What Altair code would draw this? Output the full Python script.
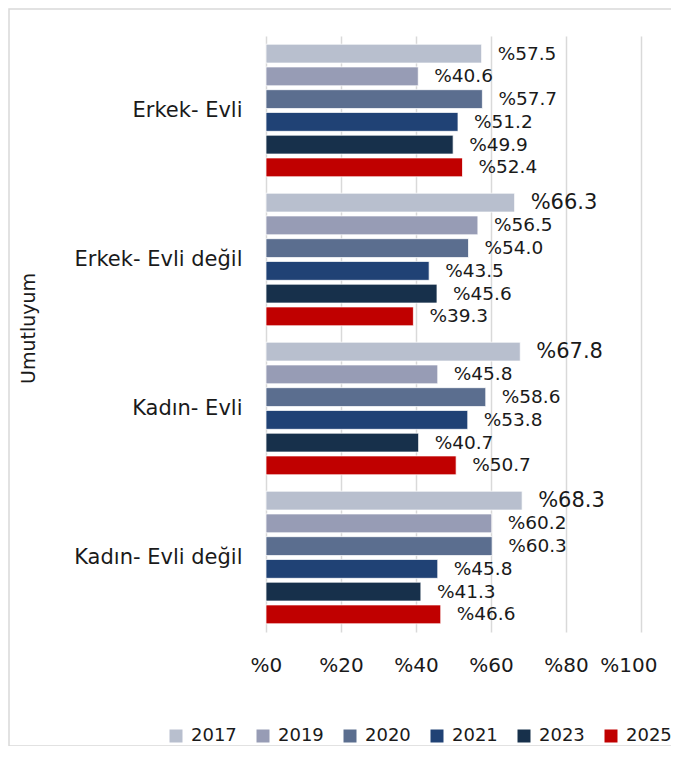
import altair as alt
import pandas as pd

categories = ["Erkek- Evli", "Erkek- Evli değil", "Kadın- Evli", "Kadın- Evli değil"]
years = ["2017", "2019", "2020", "2021", "2023", "2025"]
v2017 = [57.5, 66.3, 67.8, 68.3]
v2019 = [40.6, 56.5, 45.8, 60.2]
v2020 = [57.7, 54.0, 58.6, 60.3]
v2021 = [51.2, 43.5, 53.8, 45.8]
v2023 = [49.9, 45.6, 40.7, 41.3]
v2025 = [52.4, 39.3, 50.7, 46.6]
x_ticks = [0, 20, 40, 60, 80, 100]
colors = ["#b8bfce", "#979cb5", "#5b6e8f", "#204275", "#17304b", "#c00000"]

series = [v2017, v2019, v2020, v2021, v2023, v2025]
rows = []
for yr, vals in zip(years, series):
    for cat, v in zip(categories, vals):
        rows.append({"cat": cat, "year": yr, "value": v})
df = pd.DataFrame(rows)

FONT = "DejaVu Sans"
TXT = "#1a1a1a"

base = alt.Chart(df)

y_enc = alt.Y(
    "cat:N",
    sort=categories,
    scale=alt.Scale(paddingInner=0.11, paddingOuter=0.055),
    axis=alt.Axis(
        title="Umutluyum",
        labelFontSize=21,
        labelPadding=24,
        labelColor=TXT,
        ticks=False,
        domain=False,
        grid=False,
        titleFontSize=19,
        titleFontWeight="normal",
        titleColor=TXT,
        titleX=-238,
        titleY=292,
        titleAngle=270,
        titleAlign="center",
        titleBaseline="middle",
    ),
)
yoff = alt.YOffset("year:N", sort=years, scale=alt.Scale(paddingInner=0.17, paddingOuter=0))
x_enc = alt.X(
    "value:Q",
    scale=alt.Scale(domain=[0, 100]),
    axis=alt.Axis(
        title=None,
        values=x_ticks,
        labelExpr="'%' + datum.value",
        labelFontSize=20,
        labelPadding=23,
        labelColor=TXT,
        labelFlush=True,
        labelFlushOffset=16,
        ticks=False,
        domain=False,
        grid=True,
        gridColor="#d9d9d9",
        gridWidth=1.5,
    ),
)

bars = base.mark_bar(stroke="white", strokeWidth=0.75).encode(
    y=y_enc,
    yOffset=yoff,
    x=x_enc,
    color=alt.Color(
        "year:N",
        sort=years,
        scale=alt.Scale(domain=years, range=colors),
        legend=alt.Legend(
            title=None,
            orient="none",
            direction="horizontal",
            legendX=-99,
            legendY=691,
            padding=0,
            symbolType="square",
            symbolSize=169,
            symbolStrokeWidth=0,
            labelFontSize=18,
            labelColor=TXT,
            labelOffset=6,
            columnPadding=17,
        ),
    ),
)

labels = base.mark_text(align="left", baseline="middle", dx=16, color=TXT).encode(
    y=alt.Y("cat:N", sort=categories),
    yOffset=alt.YOffset("year:N", sort=years),
    x=alt.X("value:Q"),
    text=alt.Text("label:N"),
    size=alt.condition("datum.year == '2017' && datum.value > 60", alt.value(21), alt.value(18.5)),
).transform_calculate(label="'%' + format(datum.value, '.1f')")

frame = alt.Chart(pd.DataFrame({"f": [0]})).mark_rect(
    fill=None, stroke="#d9d9d9", strokeWidth=1.5
).encode(
    x=alt.value(-257), x2=alt.value(500), y=alt.value(-27), y2=alt.value(710)
)

chart = alt.layer(frame, bars, labels).properties(
    width=375,
    height=596,
    autosize=alt.AutoSizeParams(type="none"),
    padding={"left": 258, "top": 28, "right": 30, "bottom": 114},
).configure(font=FONT).configure_view(stroke=None)

chart.save("out.html", embed_options={"renderer": "svg", "actions": False})
